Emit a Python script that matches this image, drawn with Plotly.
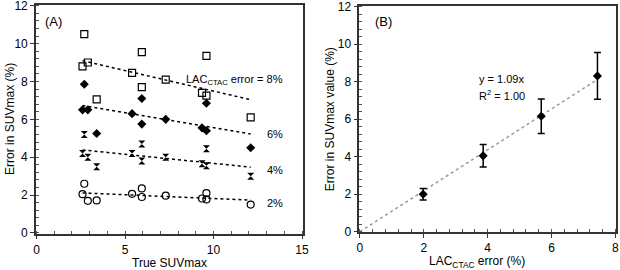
import numpy as np
import plotly.graph_objects as go

# Panel A data
true_suv = [2.6, 2.7, 2.9, 3.4, 5.4, 5.95, 5.95, 7.3, 9.35, 9.6, 9.6, 12.1]
err_8 = [8.8, 10.5, 9.0, 7.05, 8.45, 9.55, 7.7, 8.1, 7.4, 9.35, 7.25, 6.1]
err_6 = [6.5, 7.85, 6.5, 5.25, 6.3, 7.1, 5.75, 6.0, 5.55, 6.85, 5.4, 4.5]
err_4 = [4.2, 5.2, 4.0, 3.5, 4.2, 4.7, 3.8, 4.0, 3.65, 4.45, 3.55, 3.0]
err_2 = [2.05, 2.6, 1.7, 1.72, 2.07, 2.35, 1.9, 1.97, 1.82, 2.1, 1.77, 1.5]
series_labels = ["LAC<sub>CTAC</sub> error = 8%", "6%", "4%", "2%"]

# Panel B data
lac_err = [1.98, 3.86, 5.68, 7.44]
suv_err = [1.99, 4.04, 6.15, 8.3]
suv_sd = [0.31, 0.6, 0.92, 1.25]
slope_b = 1.09

fig = go.Figure()

styles = [
    (err_8, dict(symbol="square-open", size=7, color="black", line=dict(width=1.2))),
    (err_6, dict(symbol="diamond", size=7, color="black")),
    (err_4, dict(symbol="hourglass", size=7, color="black")),
    (err_2, dict(symbol="circle-open", size=7, color="black", line=dict(width=1.2))),
]
x = np.array(true_suv)
xs = np.array([min(true_suv), max(true_suv)])
for (ys, mk) in styles:
    fig.add_trace(go.Scatter(x=true_suv, y=ys, mode="markers", marker=mk,
                             xaxis="x", yaxis="y", showlegend=False))
    p = np.polyfit(x, np.array(ys), 1)
    fig.add_trace(go.Scatter(x=xs, y=np.polyval(p, xs), mode="lines",
                             line=dict(color="black", dash="dot", width=1.5),
                             xaxis="x", yaxis="y", showlegend=False))

# label positions for panel A
lab_y = [8.1, 5.23, 3.35, 1.58]
lab_x = [14.05, 14.05, 14.05, 14.05]
for t, lx, ly in zip(series_labels, lab_x, lab_y):
    fig.add_annotation(x=lx, y=ly, xref="x", yref="y", text=t, showarrow=False,
                       xanchor="right", yanchor="middle",
                       font=dict(size=11, color="black"))

# Panel B
fig.add_trace(go.Scatter(x=[0, max(lac_err)], y=[0, slope_b * max(lac_err)], mode="lines",
                         line=dict(color="#999999", dash="dot", width=1.5),
                         xaxis="x2", yaxis="y2", showlegend=False))
fig.add_trace(go.Scatter(x=lac_err, y=suv_err, mode="markers",
                         marker=dict(symbol="diamond", size=7, color="black"),
                         error_y=dict(type="data", array=suv_sd, visible=True,
                                      color="black", thickness=1.5, width=3.5),
                         xaxis="x2", yaxis="y2", showlegend=False))
fig.add_annotation(x=3.68, y=8.12, xref="x2", yref="y2", text="y = 1.09x", showarrow=False,
                   xanchor="left", font=dict(size=11, color="black"))
fig.add_annotation(x=3.68, y=7.28, xref="x2", yref="y2", text="R<sup>2</sup> = 1.00", showarrow=False,
                   xanchor="left", font=dict(size=11, color="black"))

fig.add_annotation(x=0.086, y=0.922, xref="paper", yref="paper", text="(A)", showarrow=False,
                   xanchor="center", yanchor="middle", font=dict(size=13, color="black"))
fig.add_annotation(x=0.619, y=0.922, xref="paper", yref="paper", text="(B)", showarrow=False,
                   xanchor="center", yanchor="middle", font=dict(size=13, color="black"))

# axis titles as annotations
titles = [
    ("True SUVmax", 0.274, 0.026, 0),
    ("Error in SUVmax (%)", 0.017, 0.558, -90),
    ("LAC<sub>CTAC</sub> error (%)", 0.770, 0.030, 0),
    ("Error in SUVmax value (%)", 0.532, 0.558, -90),
]
for t, tx, ty, ang in titles:
    fig.add_annotation(x=tx, y=ty, xref="paper", yref="paper", text=t, showarrow=False,
                       textangle=ang, xanchor="center", yanchor="middle",
                       font=dict(size=12, color="black"))

axis_common = dict(showgrid=False, zeroline=False, showline=True, linecolor="#333333",
                   linewidth=1.5, mirror=True, ticks="outside", ticklen=4, tickcolor="#333333",
                   tickfont=dict(size=12, color="black"), ticklabeloverflow="allow",
                   automargin=False)
minor_common = dict(ticks="inside", ticklen=3, tickcolor="#555555")

fig.update_layout(
    template="none",
    width=620, height=270,
    margin=dict(l=0, r=0, t=0, b=0, autoexpand=False),
    paper_bgcolor="white", plot_bgcolor="white",
    font=dict(family="Liberation Sans, Arial, sans-serif", color="black"),
    xaxis=dict(domain=[0.058, 0.488], range=[-0.03, 15.03], tickvals=[0, 5, 10, 15],
               minor=dict(dtick=1, **minor_common), anchor="y", **axis_common),
    yaxis=dict(domain=[0.135, 0.981], range=[-0.03, 12.03], tickvals=[0, 2, 4, 6, 8, 10, 12],
               minor=dict(dtick=0.4, **minor_common), anchor="x", **axis_common),
    xaxis2=dict(domain=[0.5795, 0.9935], range=[-0.02, 8.02], tickvals=[0, 2, 4, 6, 8],
                minor=dict(dtick=0.4, **minor_common), anchor="y2", **axis_common),
    yaxis2=dict(domain=[0.14, 0.978], range=[-0.03, 12.03], tickvals=[0, 2, 4, 6, 8, 10, 12],
                minor=dict(dtick=0.4, **minor_common), anchor="x2", **axis_common),
)

fig.write_html("out.html", config={"displayModeBar": False},
               post_script="document.body.style.margin='0';")
